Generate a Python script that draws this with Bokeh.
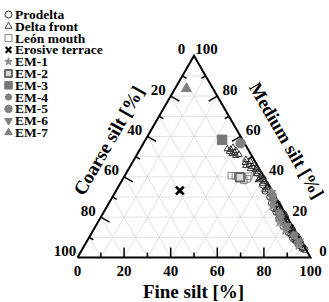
import math
from bokeh.plotting import figure
from bokeh.models import ColumnDataSource, Range1d
from bokeh.core.properties import value
from bokeh.embed import file_html
from bokeh.resources import INLINE

# ---------------- data (medium %, coarse %); fine = 100 - medium - coarse -------------
prodelta_medium = [42.0, 39.0, 36.0, 34.0, 33.0, 31.0, 30.0, 29.0, 28.0, 27.0, 26.5, 26.0, 25.0,
                   24.5, 24.0, 23.0, 22.5, 22.0, 21.5, 21.0, 20.0, 19.5, 19.0, 18.5, 18.0, 17.5,
                   17.0, 16.0, 15.5, 15.0, 14.5, 14.0, 13.5, 13.0, 12.5, 12.0, 11.5, 11.0, 10.5,
                   10.0, 9.5, 9.0, 8.5, 8.0, 7.5, 7.0, 6.5, 6.0, 5.5, 5.0, 4.5, 4.0]
prodelta_coarse = [2.0, 1.0, 2.5, 1.2, 3.0, 0.8, 2.4, 1.8, 1.5, 3.2, 0.9, 2.0, 1.0,
                   3.6, 2.5, 1.2, 3.5, 2.8, 0.7, 1.6, 0.8, 3.8, 2.2, 3.4, 1.4, 2.6,
                   3.0, 1.8, 4.0, 0.9, 3.0, 2.4, 1.0, 1.3, 3.3, 2.0, 2.7, 1.1, 0.6,
                   1.7, 2.9, 0.6, 2.3, 1.9, 0.7, 1.0, 2.0, 1.5, 0.9, 0.8, 1.3, 0.5]

delta_front_medium = [54.5, 53.5, 53.0, 52.5, 52.0, 51.5, 51.0, 50.5, 53.8,
                      48.5, 47.5, 47.0, 46.5, 46.0, 45.5, 45.0, 44.5, 44.0, 43.5,
                      42.5, 41.5, 40.5, 39.5, 38.5, 37.5, 36.5, 35.5, 34.5, 33.5,
                      31.5, 29.5, 27.5, 24.5, 21.5, 19.5, 16.5, 13.0, 10.0]
delta_front_coarse = [6.0, 7.5, 5.5, 8.5, 6.5, 7.8, 5.2, 6.8, 8.8,
                      3.5, 2.0, 4.5, 1.2, 3.2, 5.0, 2.4, 0.8, 3.8, 1.8,
                      1.2, 2.5, 0.6, 1.8, 3.0, 1.0, 2.2, 0.5, 1.5, 2.6,
                      1.2, 0.7, 2.0, 1.4, 0.9, 2.1, 1.3, 0.7, 1.9]

leon_medium = [40.6, 40.3, 38.2, 40.5, 39.0]
leon_coarse = [13.7, 6.3, 9.5, 12.0, 7.5]

erosive_medium = [33.2]
erosive_coarse = [39.5]

em1_medium = [32.5, 25.5, 17.5, 13.5, 6.0]
em1_coarse = [0.5, 3.5, 4.5, 4.0, 2.0]
em2_medium = [39.8]
em2_coarse = [10.4]
em3_medium = [58.3]
em3_coarse = [8.8]
em4_medium = [30.5, 22.0, 20.0, 11.0]
em4_coarse = [1.0, 2.5, 3.0, 1.5]
em5_medium = [56.6]
em5_coarse = [1.7]
em6_medium = [28.0, 15.5, 8.0]
em6_coarse = [2.0, 2.5, 1.0]
em7_medium = [83.7]
em7_coarse = [11.4]

series_labels = ["Prodelta", "Delta front", "León mouth", "Erosive terrace", "EM-1", "EM-2",
                 "EM-3", "EM-4", "EM-5", "EM-6", "EM-7"]

tick_values = [0, 20, 40, 60, 80, 100]
grid_values = [10, 20, 30, 40, 50, 60, 70, 80, 90]

S3 = math.sqrt(3) / 2.0
X0, X1, Y0, Y1 = -33.05, 108.15, -19.31, 110.30
W, H = 329, 302
PX = W / (X1 - X0)
PY = H / (Y1 - Y0)


def tern(medium, coarse):
    fine = [100.0 - m - c for m, c in zip(medium, coarse)]
    xs = [f + m / 2.0 for f, m in zip(fine, medium)]
    ys = [m * S3 for m in medium]
    return dict(x=xs, y=ys)


def pt(f, m):
    return (f + m / 2.0, m * S3)


p = figure(width=W, height=H, output_backend="svg", toolbar_location=None,
           x_range=Range1d(X0, X1), y_range=Range1d(Y0, Y1),
           x_axis_location=None, y_axis_location=None, min_border=0,
           outline_line_color=None)
p.xgrid.visible = False
p.ygrid.visible = False

# grid lines
gx, gy = [], []
for v in grid_values:
    a = pt(v, 0); b = pt(v, 100 - v)
    gx.append([a[0], b[0]]); gy.append([a[1], b[1]])
    a = pt(0, v); b = pt(100 - v, v)
    gx.append([a[0], b[0]]); gy.append([a[1], b[1]])
    a = pt(100 - v, 0); b = pt(0, 100 - v)
    gx.append([a[0], b[0]]); gy.append([a[1], b[1]])
p.multi_line(gx, gy, line_color="#d9d9d9", line_width=0.8)

# ticks
maj, mnr = 4.3, 2.1
x0, y0, x1, y1 = [], [], [], []
for v in grid_values:
    L = maj if v % 20 == 0 else mnr
    a = pt(v, 0)
    x0.append(a[0]); y0.append(a[1]); x1.append(a[0]); y1.append(a[1] + L)
    a = pt(0, 100 - v)
    x0.append(a[0]); y0.append(a[1]); x1.append(a[0] + 0.866 * L); y1.append(a[1] - 0.5 * L)
    a = pt(100 - v, v)
    x0.append(a[0]); y0.append(a[1]); x1.append(a[0] - 0.866 * L); y1.append(a[1] - 0.5 * L)
p.segment(x0, y0, x1, y1, line_color="black", line_width=1.5)

# triangle outline
p.line([0, 100, 50, 0], [0, 0, 100 * S3, 0], line_color="black", line_width=2, line_join="miter")

FONT = value("Liberation Serif")

# tick labels
bx = [pt(v, 0)[0] for v in tick_values]
p.text(bx, [-5.6] * len(bx), text=[str(v) for v in tick_values], text_font=FONT,
       text_font_style="bold", text_font_size="15px", text_align="center", text_baseline="middle")
lx = [pt(0, 100 - v)[0] - 5.4 for v in tick_values]
ly = [pt(0, 100 - v)[1] + 2.7 for v in tick_values]
p.text(lx, ly, text=[str(v) for v in tick_values], text_font=FONT,
       text_font_style="bold", text_font_size="15px", text_align="center", text_baseline="middle")
rx = [pt(100 - v, v)[0] + 5.4 for v in tick_values]
ry = [pt(100 - v, v)[1] + 2.7 for v in tick_values]
p.text(rx, ry, text=[str(v) for v in tick_values], text_font=FONT,
       text_font_style="bold", text_font_size="15px", text_align="center", text_baseline="middle")

# axis titles
p.text([49.8], [-14.6], text=["Fine silt [%]"], text_font=FONT, text_font_style="bold",
       text_font_size="19px", text_align="center", text_baseline="middle")
p.text([13.4], [50.2], text=["Coarse silt [%]"], text_font=FONT, text_font_style="bold",
       text_font_size="19px", text_align="center", text_baseline="middle", angle=math.pi / 3)
p.text([89.6], [50.2], text=["Medium silt [%]"], text_font=FONT, text_font_style="bold",
       text_font_size="18.5px", text_align="center", text_baseline="middle", angle=-math.pi / 3)

# series styles (marker, size, fill, line, line width)
styles = [
    dict(marker="circle", size=6.5, fill_color=None, line_color="#1a1a1a", line_width=0.9),
    dict(marker="triangle", size=6.5, fill_color=None, line_color="#2a2a2a", line_width=0.9),
    dict(marker="square", size=6.5, fill_color=None, line_color="#777777", line_width=0.9),
    dict(marker="x", size=11, fill_color=None, line_color="black", line_width=2.8),
    dict(marker="star", size=10, fill_color="#8c8c8c", line_color="#8c8c8c", line_width=1),
    dict(marker="square", size=8.5, fill_color="#d9d9d9", line_color="#666666", line_width=2),
    dict(marker="square", size=9.5, fill_color="#777777", line_color="#777777", line_width=1),
    dict(marker="asterisk", size=8.5, fill_color=None, line_color="#808080", line_width=2.5),
    dict(marker="circle", size=9.5, fill_color="#808080", line_color="#808080", line_width=1),
    dict(marker="inverted_triangle", size=9, fill_color="#808080", line_color="#808080", line_width=1),
    dict(marker="triangle", size=10, fill_color="#808080", line_color="#808080", line_width=1),
]
series = [
    (prodelta_medium, prodelta_coarse), (delta_front_medium, delta_front_coarse),
    (leon_medium, leon_coarse), (erosive_medium, erosive_coarse),
    (em1_medium, em1_coarse), (em2_medium, em2_coarse), (em3_medium, em3_coarse),
    (em4_medium, em4_coarse), (em5_medium, em5_coarse), (em6_medium, em6_coarse),
    (em7_medium, em7_coarse),
]
for (med, coa), st in zip(series, styles):
    p.scatter("x", "y", source=ColumnDataSource(tern(med, coa)), **st)

# legend (drawn in screen-pixel layout, converted through the ranges)
LEG_MX, LEG_TX, LEG_Y, LEG_DY = 8.0, 14.5, 14.0, 11.8
legend_sizes = [7, 7, 7, 8, 8, 7, 7.5, 7, 7.5, 7.5, 7.5]
for i, (lab, st) in enumerate(zip(series_labels, styles)):
    yy = Y1 - (LEG_Y + i * LEG_DY) / PY
    s2 = dict(st)
    s2["size"] = legend_sizes[i]
    if st["marker"] == "asterisk":
        s2["line_width"] = 2.2
    if st["marker"] == "x":
        s2["line_width"] = 2.2
    p.scatter([X0 + LEG_MX / PX], [yy], **s2)
    p.text([X0 + LEG_TX / PX], [yy], text=[lab], text_font=FONT, text_font_style="bold",
           text_font_size="13.5px", text_align="left", text_baseline="middle")

open("out.html", "w").write(file_html(p, INLINE))
